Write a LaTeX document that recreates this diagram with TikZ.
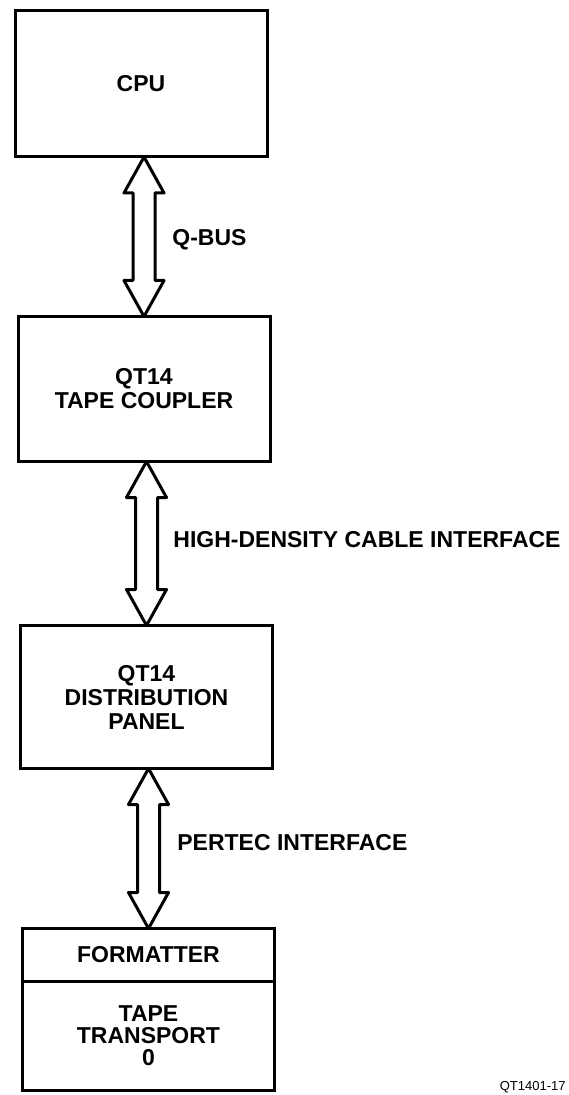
\documentclass[tikz,border=0pt]{standalone}
\usepackage{fontspec}
\setmainfont{Liberation Sans}
\usetikzlibrary{calc}
\tikzset{
  unit/.style={draw,line width=1.5pt,align=center,inner sep=0pt,outer sep=0pt,minimum width=126pt,
    font=\bfseries\fontsize{11.5}{12}\selectfont},
  bus/.style={line width=1.5pt,line join=round},
  buslabel/.style={anchor=west,inner sep=0pt,font=\bfseries\fontsize{11.5}{12}\selectfont}
}
\begin{document}
\begin{tikzpicture}[x=0.5pt,y=-0.5pt]
  \useasboundingbox (0,0) rectangle (568,1095);
  %% Units
  \node[unit,minimum height=73pt] (cpu) at (141,84) {CPU};
  \node[unit,minimum height=72.5pt] (coupler) at (144,389) {QT14\\TAPE COUPLER};
  \node[unit,minimum height=71.5pt] (panel) at (146.5,697) {QT14\\DISTRIBUTION\\PANEL};
  \node[unit,minimum height=26.25pt] (formatter) at (148.5,954.75) {FORMATTER};
  \node[unit,minimum height=54.75pt,anchor=north,font=\bfseries\fontsize{11.5}{11}\selectfont]
    (transport) at (formatter.south) {TAPE\\TRANSPORT\\0};
  %% Bus arrows
  \foreach \a/\b in {cpu/coupler,coupler/panel,panel/formatter}
    \draw[bus] (\a.south -| \b.north) -- ++(-20,36) -- ++(9,0) -- ($(\b.north)+(-11,-36)$) -- ++(-9,0)
      -- (\b.north) -- ++(20,-36) -- ++(-9,0) -- ($(\a.south -| \b.north)+(11,36)$) -- ++(9,0) -- cycle;
  %% Bus labels
  \node[buslabel] (qbus) at (172,240) {Q-BUS};
  \node[buslabel] (hdci) at (173,540) {HIGH-DENSITY CABLE INTERFACE};
  \node[buslabel] (pertec) at (177,843) {PERTEC INTERFACE};
  \node[anchor=east,inner sep=0pt,font=\fontsize{6.5}{7}\selectfont] (figid) at (566,1087) {QT1401-17};
\end{tikzpicture}
\end{document}
